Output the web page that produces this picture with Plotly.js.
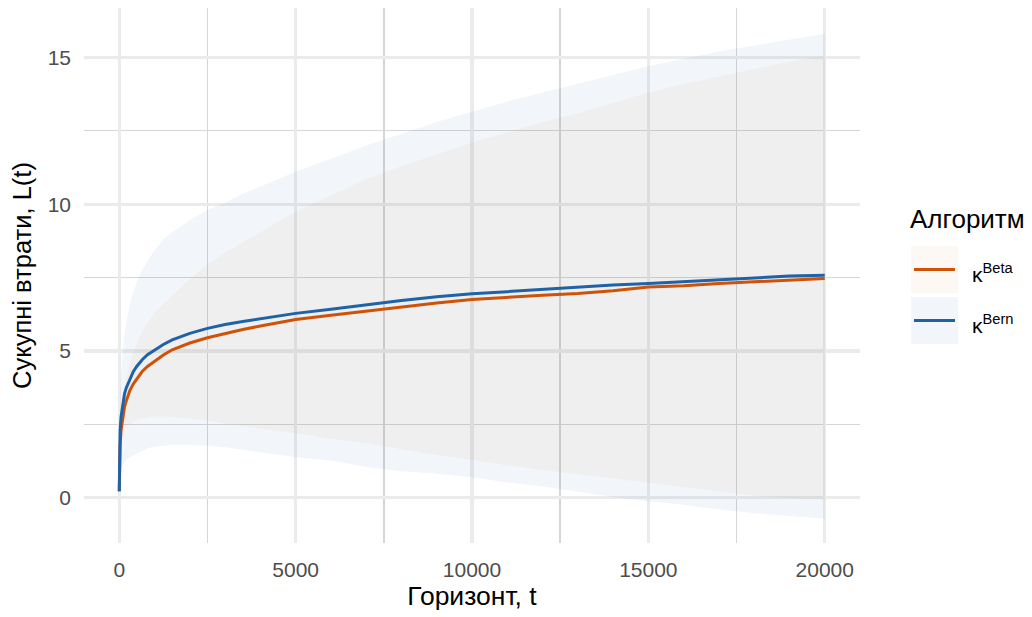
<!DOCTYPE html>
<html>
<head>
<meta charset="utf-8">
<script src="https://cdn.plot.ly/plotly-3.0.1.min.js"></script>
<style>html,body{margin:0;padding:0;background:#fff;}#chart{width:1032px;height:617px;}</style>
</head>
<body>
<div id="chart"></div>
<script>
// Horizon values (t)
const horizon = [0, 10, 25, 50, 100, 150, 200, 300, 400, 500, 650, 800, 1000, 1250, 1500, 1750, 2000, 2500, 3000, 3500, 4000, 5000, 6000, 7000, 8000, 9000, 10000, 11000, 12000, 13000, 14000, 15000, 16000, 17000, 18000, 19000, 20000];

// κ^Beta: mean cumulative loss and ribbon bounds
const betaMean  = [0.22, 1.2, 1.8, 2.3, 2.8, 3.1, 3.3, 3.65, 3.88, 4.05, 4.3, 4.47, 4.65, 4.86, 5.04, 5.16, 5.27, 5.45, 5.6, 5.73, 5.85, 6.07, 6.22, 6.36, 6.5, 6.63, 6.75, 6.83, 6.9, 6.96, 7.05, 7.18, 7.22, 7.3, 7.36, 7.42, 7.47];
const betaUpper = [0.22, 1.6, 2.3, 2.8, 3.4, 3.8, 4.1, 4.6, 4.95, 5.3, 5.65, 5.95, 6.3, 6.6, 6.9, 7.18, 7.45, 7.95, 8.35, 8.7, 9.05, 9.75, 10.3, 10.85, 11.3, 11.7, 12.1, 12.45, 12.8, 13.1, 13.45, 13.8, 14.1, 14.35, 14.6, 14.85, 15.07];
const betaLower = [0.22, 1.0, 1.45, 1.8, 2.15, 2.3, 2.4, 2.52, 2.6, 2.65, 2.7, 2.74, 2.77, 2.77, 2.75, 2.73, 2.7, 2.62, 2.52, 2.44, 2.35, 2.2, 2.0, 1.86, 1.65, 1.45, 1.29, 1.1, 0.95, 0.8, 0.65, 0.52, 0.36, 0.2, 0.07, -0.01, -0.07];

// κ^Bern: mean cumulative loss and ribbon bounds
const bernMean  = [0.22, 1.6, 2.3, 2.75, 3.25, 3.55, 3.75, 4.05, 4.3, 4.48, 4.7, 4.87, 5.03, 5.22, 5.38, 5.5, 5.6, 5.77, 5.9, 6.0, 6.1, 6.28, 6.42, 6.58, 6.72, 6.85, 6.95, 7.02, 7.1, 7.18, 7.25, 7.3, 7.36, 7.43, 7.48, 7.55, 7.58];
const bernUpper = [0.22, 2.8, 3.6, 4.3, 5.1, 5.6, 6.0, 6.6, 7.0, 7.35, 7.75, 8.05, 8.45, 8.8, 9.05, 9.25, 9.45, 9.8, 10.05, 10.35, 10.6, 11.1, 11.55, 12.0, 12.4, 12.8, 13.15, 13.5, 13.8, 14.1, 14.4, 14.7, 14.95, 15.2, 15.4, 15.6, 15.8];
const bernLower = [0.22, 0.35, 0.6, 0.85, 1.1, 1.22, 1.3, 1.38, 1.44, 1.5, 1.6, 1.68, 1.75, 1.78, 1.8, 1.8, 1.8, 1.77, 1.72, 1.63, 1.55, 1.38, 1.27, 1.05, 0.9, 0.82, 0.7, 0.52, 0.38, 0.2, 0.03, -0.12, -0.24, -0.4, -0.53, -0.62, -0.71];

const seriesNames = ['κ<sup>Beta</sup>', 'κ<sup>Bern</sup>'];
const legendTitle = 'Алгоритм';
const xTicks = [0, 5000, 10000, 15000, 20000];
const xTickLabels = ['0', '5000', '10000', '15000', '20000'];
const yTicks = [0, 5, 10, 15];
const yTickLabels = ['0', '5', '10', '15'];

const orange = '#CF5209';
const blue = '#1F62A6';
const orangeFill = 'rgba(207,82,9,0.045)';
const blueFill = 'rgba(31,98,166,0.06)';

const traces = [
  {x: horizon, y: bernLower, type: 'scatter', mode: 'lines', line: {width: 0}, hoverinfo: 'skip', showlegend: false},
  {x: horizon, y: bernUpper, type: 'scatter', mode: 'lines', line: {width: 0}, fill: 'tonexty', fillcolor: blueFill, hoverinfo: 'skip', showlegend: false},
  {x: horizon, y: betaLower, type: 'scatter', mode: 'lines', line: {width: 0}, hoverinfo: 'skip', showlegend: false},
  {x: horizon, y: betaUpper, type: 'scatter', mode: 'lines', line: {width: 0}, fill: 'tonexty', fillcolor: orangeFill, hoverinfo: 'skip', showlegend: false},
  {x: horizon, y: betaMean, type: 'scatter', mode: 'lines', name: seriesNames[0], line: {color: orange, width: 3}, showlegend: false},
  {x: horizon, y: bernMean, type: 'scatter', mode: 'lines', name: seriesNames[1], line: {color: blue, width: 3}, showlegend: false}
];

// plot area in pixels
const L = 84, R = 860, T = 8, B = 543;
const px = p => (p - L) / (R - L);
const py = p => (B - p) / (B - T);

const font = 'Liberation Sans, Arial, sans-serif';

const shapes = [
  {type: 'rect', xref: 'paper', yref: 'paper', x0: px(911), x1: px(958), y0: py(293), y1: py(246), fillcolor: orangeFill, line: {width: 0}},
  {type: 'line', xref: 'paper', yref: 'paper', x0: px(914), x1: px(955), y0: py(269.5), y1: py(269.5), line: {color: orange, width: 3}},
  {type: 'rect', xref: 'paper', yref: 'paper', x0: px(911), x1: px(958), y0: py(344), y1: py(297), fillcolor: blueFill, line: {width: 0}},
  {type: 'line', xref: 'paper', yref: 'paper', x0: px(914), x1: px(955), y0: py(320.5), y1: py(320.5), line: {color: blue, width: 3}}
];

const annotations = [
  {xref: 'paper', yref: 'paper', x: px(908), y: py(219), xanchor: 'left', yanchor: 'middle', text: legendTitle, showarrow: false, font: {family: font, size: 26, color: '#000'}},
  {xref: 'paper', yref: 'paper', x: px(970), y: py(273), xanchor: 'left', yanchor: 'middle', text: seriesNames[0], showarrow: false, font: {family: font, size: 21, color: '#000'}},
  {xref: 'paper', yref: 'paper', x: px(970), y: py(324), xanchor: 'left', yanchor: 'middle', text: seriesNames[1], showarrow: false, font: {family: font, size: 21, color: '#000'}}
];

const layout = {
  width: 1032, height: 617,
  margin: {l: L, r: 1032 - R, t: T, b: 617 - B, pad: 0},
  paper_bgcolor: '#fff', plot_bgcolor: '#fff',
  showlegend: false,
  font: {family: font},
  xaxis: {
    range: [-1000, 21000], tickvals: xTicks, ticktext: xTickLabels,
    showgrid: true, gridcolor: '#EBEBEB', gridwidth: 3.2, zeroline: false, showline: false, ticks: '',
    ticklabelstandoff: 12,
    tickfont: {family: font, size: 21, color: '#4D4D4D'},
    minor: {tickvals: [2500, 7500, 12500, 17500], showgrid: true, gridcolor: '#D6D6D6', gridwidth: 1.5, ticks: ''},
    title: {text: 'Горизонт, t', font: {family: font, size: 26.5, color: '#000'}, standoff: 6}
  },
  yaxis: {
    range: [-1.54, 16.68], tickvals: yTicks, ticktext: yTickLabels,
    showgrid: true, gridcolor: '#EBEBEB', gridwidth: 3.2, zeroline: false, showline: false, ticks: '',
    ticklabelstandoff: 12,
    tickfont: {family: font, size: 21, color: '#4D4D4D'},
    minor: {tickvals: [2.5, 7.5, 12.5], showgrid: true, gridcolor: '#D6D6D6', gridwidth: 1.5, ticks: ''},
    title: {text: 'Сукупні втрати, L(t)', font: {family: font, size: 25.5, color: '#000'}, standoff: 8}
  },
  shapes: shapes,
  annotations: annotations
};

Plotly.newPlot('chart', traces, layout, {staticPlot: true, displayModeBar: false});
</script>
</body>
</html>
